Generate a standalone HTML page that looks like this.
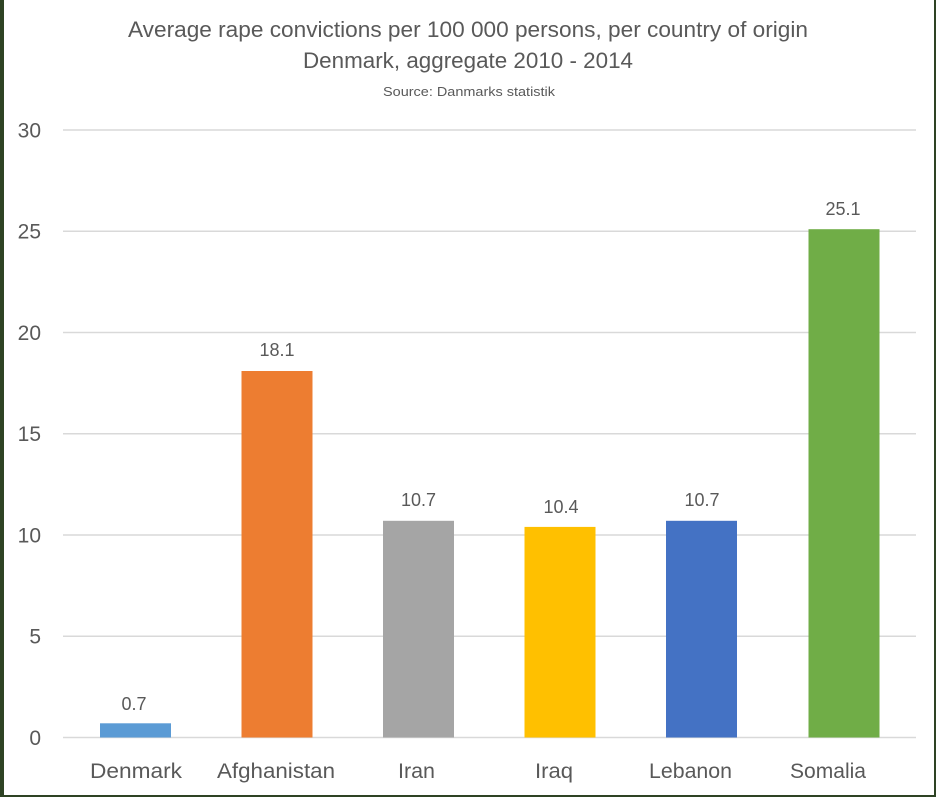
<!DOCTYPE html>
<html><head><meta charset="utf-8"><style>
html,body{margin:0;padding:0;background:#fff;}
svg{display:block;}
text{font-family:"Liberation Sans",sans-serif;fill:#595959;}
</style></head><body>
<svg width="936" height="797" viewBox="0 0 936 797" xmlns="http://www.w3.org/2000/svg">
<rect x="0" y="0" width="936" height="797" fill="#ffffff"/>
<!-- titles -->
<text x="128" y="37" font-size="22" textLength="680" lengthAdjust="spacingAndGlyphs">Average rape convictions per 100 000 persons, per country of origin</text>
<text x="303" y="68" font-size="22" textLength="330" lengthAdjust="spacingAndGlyphs">Denmark, aggregate 2010 - 2014</text>
<text x="383" y="96" font-size="12.5" textLength="172" lengthAdjust="spacingAndGlyphs">Source: Danmarks statistik</text>
<!-- gridlines -->
<g stroke="#d9d9d9" stroke-width="1.5">
<line x1="63" x2="916" y1="130" y2="130"/>
<line x1="63" x2="916" y1="231.25" y2="231.25"/>
<line x1="63" x2="916" y1="332.5" y2="332.5"/>
<line x1="63" x2="916" y1="433.75" y2="433.75"/>
<line x1="63" x2="916" y1="535" y2="535"/>
<line x1="63" x2="916" y1="636.25" y2="636.25"/>
<line x1="63" x2="916" y1="737.5" y2="737.5"/>
</g>
<!-- y labels -->
<g font-size="21" text-anchor="end">
<text x="41" y="137.5">30</text>
<text x="41" y="238.5">25</text>
<text x="41" y="340">20</text>
<text x="41" y="441">15</text>
<text x="41" y="542.5">10</text>
<text x="41" y="643.5">5</text>
<text x="41" y="745">0</text>
</g>
<!-- bars -->
<rect x="100" y="723.3" width="71" height="14.2" fill="#5b9bd5"/>
<rect x="241.5" y="371" width="71" height="366.5" fill="#ed7d31"/>
<rect x="383" y="520.8" width="71" height="216.7" fill="#a5a5a5"/>
<rect x="524.5" y="526.9" width="71" height="210.6" fill="#ffc000"/>
<rect x="666" y="520.8" width="71" height="216.7" fill="#4472c4"/>
<rect x="808.5" y="229.2" width="71" height="508.3" fill="#70ad47"/>
<!-- value labels -->
<g font-size="18" text-anchor="middle">
<text x="134" y="710">0.7</text>
<text x="277" y="356">18.1</text>
<text x="418.5" y="506">10.7</text>
<text x="561" y="513">10.4</text>
<text x="702" y="506">10.7</text>
<text x="843" y="215">25.1</text>
</g>
<!-- x labels -->
<g font-size="21" text-anchor="middle">
<text x="136" y="778" textLength="92" lengthAdjust="spacingAndGlyphs">Denmark</text>
<text x="276" y="778" textLength="118" lengthAdjust="spacingAndGlyphs">Afghanistan</text>
<text x="416.5" y="778" textLength="37" lengthAdjust="spacingAndGlyphs">Iran</text>
<text x="554" y="778" textLength="38" lengthAdjust="spacingAndGlyphs">Iraq</text>
<text x="690.5" y="778" textLength="83" lengthAdjust="spacingAndGlyphs">Lebanon</text>
<text x="828" y="778" textLength="76" lengthAdjust="spacingAndGlyphs">Somalia</text>
</g>
<!-- borders -->
<rect x="0" y="0" width="4" height="797" fill="#2e4324"/>
<rect x="934" y="0" width="2" height="797" fill="#2e4324"/>
<rect x="0" y="795" width="936" height="2" fill="#2e4324"/>
</svg>
</body></html>
